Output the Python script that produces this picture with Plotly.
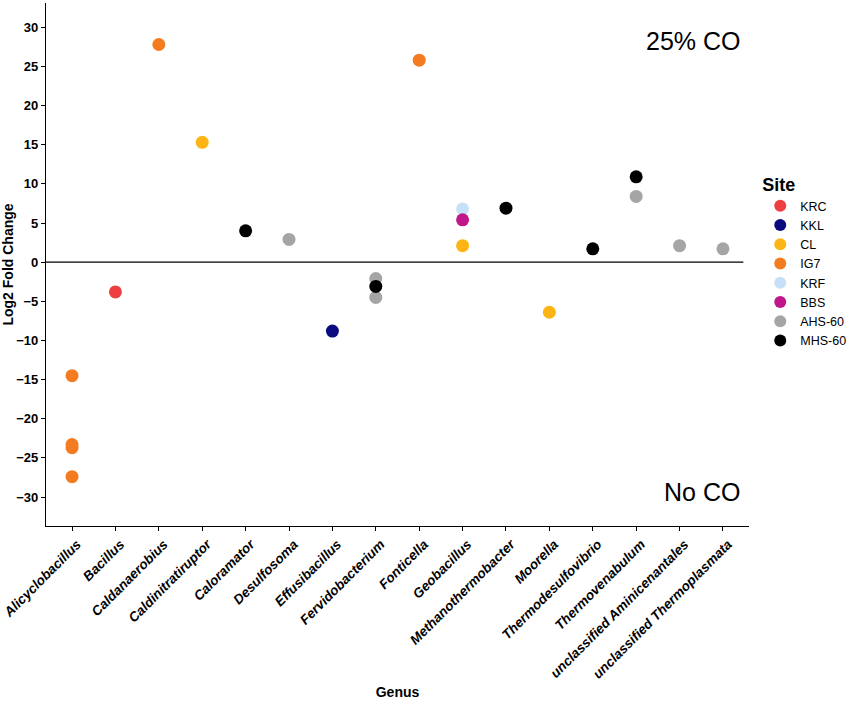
import plotly.graph_objects as go

genera = ["Alicyclobacillus", "Bacillus", "Caldanaerobius", "Caldinitratiruptor",
          "Caloramator", "Desulfosoma", "Effusibacillus", "Fervidobacterium",
          "Fonticella", "Geobacillus", "Methanothermobacter", "Moorella",
          "Thermodesulfovibrio", "Thermovenabulum", "unclassified Aminicenantales",
          "unclassified Thermoplasmata"]

sites = ["KRC", "KKL", "CL", "IG7", "KRF", "BBS", "AHS-60", "MHS-60"]
site_colors = ["#EF3E42", "#0B0B80", "#FDB515", "#F47C20", "#C6E1F7", "#C0168A", "#A5A5A5", "#000000"]

krc_genus = ["Bacillus"]
krc_lfc = [-3.8]
kkl_genus = ["Effusibacillus"]
kkl_lfc = [-8.8]
cl_genus = ["Caldinitratiruptor", "Geobacillus", "Moorella"]
cl_lfc = [15.3, 2.1, -6.4]
ig7_genus = ["Alicyclobacillus", "Alicyclobacillus", "Alicyclobacillus", "Alicyclobacillus",
             "Caldanaerobius", "Fonticella"]
ig7_lfc = [-14.5, -23.3, -23.7, -27.4, 27.8, 25.8]
krf_genus = ["Geobacillus"]
krf_lfc = [6.8]
bbs_genus = ["Geobacillus"]
bbs_lfc = [5.4]
ahs_genus = ["Desulfosoma", "Fervidobacterium", "Fervidobacterium", "Thermovenabulum",
             "unclassified Aminicenantales", "unclassified Thermoplasmata"]
ahs_lfc = [2.9, -2.1, -4.5, 8.4, 2.1, 1.7]
mhs_genus = ["Caloramator", "Fervidobacterium", "Methanothermobacter",
             "Thermodesulfovibrio", "Thermovenabulum"]
mhs_lfc = [4.0, -3.1, 6.9, 1.7, 10.9]

y_ticks = [-30, -25, -20, -15, -10, -5, 0, 5, 10, 15, 20, 25, 30]

series = [(krc_genus, krc_lfc), (kkl_genus, kkl_lfc), (cl_genus, cl_lfc), (ig7_genus, ig7_lfc),
          (krf_genus, krf_lfc), (bbs_genus, bbs_lfc), (ahs_genus, ahs_lfc), (mhs_genus, mhs_lfc)]

FONT = "Liberation Sans, Arial, sans-serif"

fig = go.Figure()
for name, color, (gx, gy) in zip(sites, site_colors, series):
    fig.add_trace(go.Scatter(
        x=gx, y=gy, mode="markers", name=name,
        marker=dict(color=color, size=13, line=dict(width=0)),
    ))

fig.add_shape(type="line", xref="paper", yref="y", x0=0, x1=0.992, y0=0, y1=0,
              line=dict(color="black", width=1.2), layer="below")

fig.add_annotation(text="25% CO", xref="x", yref="y", x=15.45, y=28.2,
                   xanchor="right", yanchor="middle", showarrow=False,
                   font=dict(family=FONT, size=25, color="black"))
fig.add_annotation(text="No CO", xref="x", yref="y", x=15.45, y=-29.4,
                   xanchor="right", yanchor="middle", showarrow=False,
                   font=dict(family=FONT, size=25, color="black"))

fig.update_layout(
    width=851, height=701,
    margin=dict(l=46, r=102, t=3, b=175, autoexpand=False),
    paper_bgcolor="white", plot_bgcolor="white",
    font=dict(family=FONT, color="black"),
    showlegend=True,
    legend=dict(
        title=dict(text="<b>Site</b>", font=dict(size=18, family=FONT)),
        font=dict(size=12.5, family=FONT),
        x=1.016, xanchor="left", y=0.685, yanchor="top",
        tracegroupgap=0, itemsizing="constant",
        bgcolor="rgba(0,0,0,0)",
    ),
    xaxis=dict(
        type="category", categoryorder="array", categoryarray=genera,
        tickvals=genera, ticktext=genera,
        range=[-0.6, 15.6], automargin=False,
        showline=True, linecolor="black", linewidth=1.2,
        ticks="outside", ticklen=4, tickcolor="black",
        showgrid=False, zeroline=False, tickangle=-45, ticklabelshift=5,
        tickfont=dict(size=13.5, family=FONT, weight="bold", style="italic"),
        title=dict(text="<b>Genus</b>", font=dict(size=14, family=FONT), standoff=6),
    ),
    yaxis=dict(
        range=[-33.7, 33.1], automargin=False,
        tickvals=y_ticks,
        showline=True, linecolor="black", linewidth=1.2,
        ticks="outside", ticklen=4, tickcolor="black",
        showgrid=False, zeroline=False,
        tickfont=dict(size=13, family=FONT, weight="bold"),
        title=dict(text="<b>Log2 Fold Change</b>", font=dict(size=14, family=FONT), standoff=2),
    ),
)

fig.write_html("out.html", config={"displayModeBar": False},
               post_script="document.body.style.margin='0';")
